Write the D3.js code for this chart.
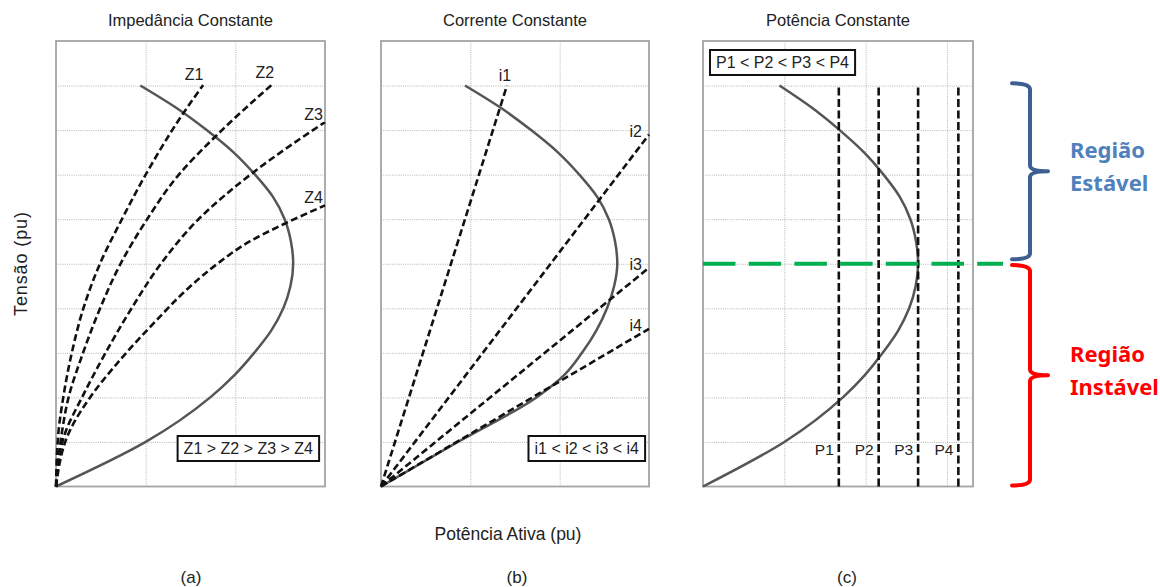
<!DOCTYPE html>
<html>
<head>
<meta charset="utf-8">
<script src="https://cdn.jsdelivr.net/npm/d3@7"></script>
<style>
  html, body { margin: 0; padding: 0; background: #fff; }
  svg { display: block; font-family: "Liberation Sans", Arial, Helvetica, sans-serif; }
</style>
</head>
<body>
<svg id="chart" width="1160" height="587"></svg>
<script>
// ---- data: active power P (grid units) vs voltage V (pu) ----

// P-V "nose" curve used in panels (a) and (c), listed by increasing V
const pvCurve = [
  [0, 0], [1.0, 0.10], [1.72, 0.20], [1.99, 0.25], [2.21, 0.30], [2.40, 0.35],
  [2.535, 0.40], [2.615, 0.45], [2.645, 0.50], [2.62, 0.55], [2.55, 0.60],
  [2.42, 0.65], [2.22, 0.70], [1.98, 0.75], [1.68, 0.80], [1.34, 0.85], [0.94, 0.90]
];

// P-V curve of panel (b): same upper branch, flatter lower branch
const pvCurveB = [
  [0, 0], [0.86, 0.10], [1.74, 0.20], [2.05, 0.25], [2.25, 0.30], [2.41, 0.35],
  [2.53, 0.40], [2.61, 0.45], [2.645, 0.50], [2.62, 0.55], [2.55, 0.60],
  [2.42, 0.65], [2.22, 0.70], [1.98, 0.75], [1.68, 0.80], [1.34, 0.85], [0.94, 0.90]
];

// constant-impedance load characteristics
const zNames = ["Z1", "Z2", "Z3", "Z4"];
const zCurves = [
  [[0, 0], [0.026, 0.119], [0.081, 0.20], [0.175, 0.299], [0.304, 0.399], [0.49, 0.50],
   [0.73, 0.598], [1.0, 0.70], [1.42, 0.838], [1.64, 0.901]],
  [[0, 0], [0.064, 0.119], [0.14, 0.20], [0.30, 0.299], [0.49, 0.399], [0.72, 0.50],
   [1.01, 0.598], [1.37, 0.70], [1.80, 0.79], [2.43, 0.906]],
  [[0, 0], [0.10, 0.119], [0.29, 0.20], [0.55, 0.299], [0.84, 0.399], [1.17, 0.50],
   [1.58, 0.598], [2.2, 0.705], [3.0, 0.818]],
  [[0, 0], [0.156, 0.126], [0.38, 0.20], [0.68, 0.276], [1.12, 0.373], [1.49, 0.448],
   [1.80, 0.50], [2.16, 0.55], [2.52, 0.587], [3.0, 0.631]]
];

// constant-current load lines (straight from the origin to these end points)
const iNames = ["i1", "i2", "i3", "i4"];
const iEnds = [[1.41, 0.90], [3.0, 0.79], [3.0, 0.491], [3.0, 0.354]];

// constant-power load levels
const pNames = ["P1", "P2", "P3", "P4"];
const pLevels = [1.67, 2.16, 2.645, 3.14];
const pTopV = 0.9;
const pLabelV = 0.07;

// voltage at the nose (stability limit)
const criticalV = 0.5;

const titles = ["Impedância Constante", "Corrente Constante", "Potência Constante"];
const tags = ["(a)", "(b)", "(c)"];
const legendTexts = ["Z1 > Z2 > Z3 > Z4", "i1 < i2 < i3 < i4", "P1 < P2 < P3 < P4"];
const regionLabels = [["Região", "Estável"], ["Região", "Instável"]];
const yAxisLabel = "Tensão (pu)";
const xAxisLabel = "Potência Ativa (pu)";

// ---- layout ----
const plotTop = 41, plotBottom = 486.5;
const panels = [
  { left: 56,  right: 325, pMax: 3,    tagX: 191 },
  { left: 381, right: 649, pMax: 3,    tagX: 517 },
  { left: 703, right: 973, pMax: 3.32, tagX: 847 }
];

const svg = d3.select("#chart");
const dark = "#222";

const scales = panels.map(p => ({
  x: d3.scaleLinear().domain([0, p.pMax]).range([p.left, p.right]),
  y: d3.scaleLinear().domain([0, 1]).range([plotBottom, plotTop])
}));

// frames and grids
panels.forEach((p, k) => {
  const { x, y } = scales[k];
  const g = svg.append("g");
  g.append("g")
    .attr("transform", `translate(0,${plotBottom})`)
    .call(d3.axisBottom(x).tickValues(d3.range(1, Math.ceil(p.pMax)))
      .tickSize(-(plotBottom - plotTop)).tickFormat(""))
    .call(s => s.select(".domain").remove())
    .selectAll("line").attr("stroke", "#b5b5b5").attr("stroke-dasharray", "1,1.2");
  g.append("g")
    .attr("transform", `translate(${p.left},0)`)
    .call(d3.axisLeft(y).tickValues(d3.range(1, 10).map(i => i / 10))
      .tickSize(-(p.right - p.left)).tickFormat(""))
    .call(s => s.select(".domain").remove())
    .selectAll("line").attr("stroke", "#b5b5b5").attr("stroke-dasharray", "1,1.2");
  g.append("rect")
    .attr("x", p.left).attr("y", plotTop)
    .attr("width", p.right - p.left).attr("height", plotBottom - plotTop)
    .attr("fill", "none").attr("stroke", "#a4a4a4").attr("stroke-width", 1.8);

  svg.append("text")
    .attr("x", (p.left + p.right) / 2).attr("y", 26)
    .attr("text-anchor", "middle").attr("font-size", 16.5).attr("fill", dark)
    .text(titles[k]);
  svg.append("text")
    .attr("x", p.tagX).attr("y", 583)
    .attr("text-anchor", "middle").attr("font-size", 17).attr("fill", dark)
    .text(tags[k]);
});

const lineOf = (x, y) => d3.line().x(d => x(d[0])).y(d => y(d[1])).curve(d3.curveMonotoneY);
const pvStyle = s => s.attr("fill", "none").attr("stroke", "#555").attr("stroke-width", 2.5);
const dashStyle = s => s.attr("fill", "none").attr("stroke", "#111")
  .attr("stroke-width", 2.6).attr("stroke-dasharray", "7,3.5");

function legend(text, anchor, tx, ty) {
  const g = svg.append("g");
  const t = g.append("text")
    .attr("x", tx).attr("y", ty).attr("text-anchor", anchor)
    .attr("font-size", 16).attr("fill", dark).text(text);
  const b = t.node().getBBox();
  g.insert("rect", "text")
    .attr("x", b.x - 6).attr("y", b.y - 4)
    .attr("width", b.width + 12).attr("height", b.height + 8)
    .attr("fill", "#fff").attr("stroke", "#111").attr("stroke-width", 2);
}

// ---- panel (a): constant impedance ----
{
  const { x, y } = scales[0];
  const line = lineOf(x, y);
  svg.append("path").datum(pvCurve).attr("d", line).call(pvStyle);
  zCurves.forEach((c, i) => {
    svg.append("path").datum(c).attr("d", line).call(dashStyle);
    const end = c[c.length - 1];
    const atEdge = end[0] >= panels[0].pMax;
    svg.append("text")
      .attr("x", x(end[0]) + (atEdge ? -2 : -9))
      .attr("y", y(end[1]) + (atEdge ? -2 : -5))
      .attr("text-anchor", atEdge ? "end" : "middle")
      .attr("font-size", 16).attr("fill", dark).text(zNames[i]);
  });
  legend(legendTexts[0], "end", panels[0].right - 12, 454);
}

// ---- panel (b): constant current ----
{
  const { x, y } = scales[1];
  const line = lineOf(x, y);
  svg.append("path").datum(pvCurveB).attr("d", line).call(pvStyle);
  iEnds.forEach((e, i) => {
    svg.append("path").datum([[0, 0], e])
      .attr("d", d3.line().x(d => x(d[0])).y(d => y(d[1])))
      .call(dashStyle);
    const atEdge = e[0] >= panels[1].pMax;
    svg.append("text")
      .attr("x", x(e[0]) + (atEdge ? -7 : -2))
      .attr("y", y(e[1]) + (atEdge ? 2 : -5))
      .attr("text-anchor", atEdge ? "end" : "middle")
      .attr("font-size", 16).attr("fill", dark).text(iNames[i]);
  });
  legend(legendTexts[1], "end", panels[1].right - 10, 454);
}

// ---- panel (c): constant power ----
{
  const p = panels[2];
  const { x, y } = scales[2];
  const line = lineOf(x, y);
  svg.append("path").datum(pvCurve).attr("d", line).call(pvStyle);
  pLevels.forEach((v, i) => {
    svg.append("line")
      .attr("x1", x(v)).attr("x2", x(v))
      .attr("y1", y(0)).attr("y2", y(pTopV))
      .attr("stroke", "#111").attr("stroke-width", 2.6).attr("stroke-dasharray", "8,3.5");
    svg.append("text")
      .attr("x", x(v) - 5).attr("y", y(pLabelV))
      .attr("text-anchor", "end").attr("font-size", 15.5).attr("fill", dark)
      .text(pNames[i]);
  });
  legend(legendTexts[2], "start", p.left + 13, 68);

  // stability limit
  const yc = y(criticalV);
  svg.append("line")
    .attr("x1", p.left).attr("x2", p.right + 30)
    .attr("y1", yc).attr("y2", yc)
    .attr("stroke", "#00b050").attr("stroke-width", 4).attr("stroke-dasharray", "32.5,13.2");

  // braces marking the stable / unstable regions
  const xs = p.right + 39, xSpine = p.right + 57, xTip = p.right + 75;
  function brace(yTop, yBot) {
    const mid = (yTop + yBot) / 2, r = 6;
    const path = d3.path();
    path.moveTo(xs, yTop);
    path.quadraticCurveTo(xSpine, yTop, xSpine, yTop + r);
    path.lineTo(xSpine, mid - r);
    path.quadraticCurveTo(xSpine, mid, xTip, mid);
    path.quadraticCurveTo(xSpine, mid, xSpine, mid + r);
    path.lineTo(xSpine, yBot - r);
    path.quadraticCurveTo(xSpine, yBot, xs, yBot);
    return path.toString();
  }
  const regions = [
    { y0: y(0.905), y1: y(0.51), brace: "#3d5f91", text: "#4f81bd" },
    { y0: y(0.497), y1: y(0) - 1, brace: "#ff0000", text: "#ff0000" }
  ];
  regions.forEach((r, i) => {
    svg.append("path").attr("d", brace(r.y0, r.y1))
      .attr("fill", "none").attr("stroke", r.brace).attr("stroke-width", 4)
      .attr("stroke-linecap", "round").attr("stroke-linejoin", "round");
    const mid = (r.y0 + r.y1) / 2;
    regionLabels[i].forEach((s, j) => {
      svg.append("text")
        .attr("x", p.right + 97).attr("y", mid - 13 + j * 33)
        .attr("font-family", "'Noto Sans', 'Open Sans', sans-serif")
        .attr("font-weight", "bold").attr("font-size", 22)
        .attr("fill", r.text).text(s);
    });
  });
}

// ---- shared axis titles ----
svg.append("text")
  .attr("transform", "translate(27,264) rotate(-90)")
  .attr("text-anchor", "middle").attr("font-size", 18).attr("fill", dark)
  .attr("textLength", 104).attr("lengthAdjust", "spacing")
  .text(yAxisLabel);
svg.append("text")
  .attr("x", 508).attr("y", 540)
  .attr("text-anchor", "middle").attr("font-size", 17.5).attr("fill", dark)
  .text(xAxisLabel);
</script>
</body>
</html>
